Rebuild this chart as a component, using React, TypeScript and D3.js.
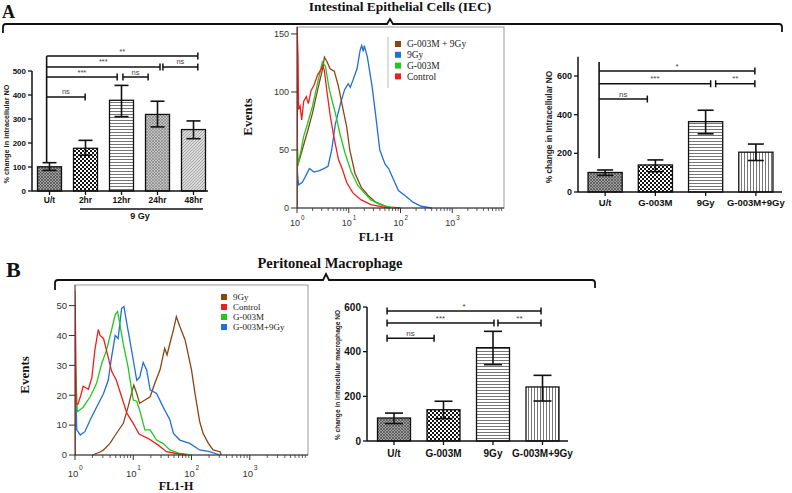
import React from 'react';
import * as d3 from 'd3';

// ---------------- DATA ----------------
// Panel A (left): time course after 9 Gy
const iecTimeCategories = ['U/t', '2hr', '12hr', '24hr', '48hr'];
const iecTimeMean = [101, 178, 378, 319, 256];
const iecTimeLow = [86, 149, 310, 267, 218];
const iecTimeHigh = [118, 211, 440, 374, 292];
const iecTimeSignif = [
  { from: -0.08, to: 4.12, y: 562, label: '**' },
  { from: -0.08, to: 3.07, y: 517, label: '***' },
  { from: 3.15, to: 4.12, y: 517, label: 'ns' },
  { from: -0.08, to: 1.88, y: 475, label: '***' },
  { from: 2.04, to: 2.74, y: 475, label: 'ns' },
  { from: -0.08, to: 0.99, y: 392, label: 'ns' },
];
const iecTimeVertical = { at: -0.08, top: 562, bottom: 118 };

// Panel A (right): treatments, IEC
const treatCategories = ['U/t', 'G-003M', '9Gy', 'G-003M+9Gy'];
const iecTreatMean = [101, 140, 364, 206];
const iecTreatLow = [86, 105, 301, 163];
const iecTreatHigh = [114, 166, 423, 248];
const iecTreatSignif = [
  { from: -0.12, to: 2.98, y: 626, label: '*' },
  { from: -0.12, to: 2.1, y: 560, label: '***' },
  { from: 2.2, to: 2.98, y: 560, label: '**' },
  { from: -0.12, to: 0.84, y: 481, label: 'ns' },
];
const iecTreatVertical = { at: -0.12, top: 673, bottom: 175 };

// Panel B (right): treatments, macrophage
const macTreatMean = [103, 140, 418, 242];
const macTreatLow = [78, 100, 342, 179];
const macTreatHigh = [125, 178, 491, 294];
const macTreatSignif = [
  { from: -0.14, to: 2.97, y: 582, label: '*' },
  { from: -0.14, to: 2.02, y: 528, label: '***' },
  { from: 2.1, to: 2.97, y: 528, label: '**' },
  { from: -0.14, to: 0.81, y: 460, label: 'ns' },
];

// Flow histograms: [log10(FL1-H), events]
const iecControl = [[0, 0], [0, 160], [0.02, 130], [0.03, 85], [0.06, 88], [0.09, 76], [0.13, 92], [0.18, 96], [0.22, 90], [0.27, 101], [0.33, 106], [0.4, 115], [0.46, 119], [0.5, 123], [0.53, 118], [0.58, 100], [0.64, 80], [0.71, 62], [0.8, 42], [0.88, 33], [0.96, 22], [1.08, 13], [1.24, 7], [1.43, 3], [1.7, 0.5], [1.8, 0]];
const iecG003M = [[0, 0], [0, 60], [0.02, 38], [0.08, 50], [0.13, 62], [0.2, 72], [0.3, 88], [0.4, 108], [0.49, 126], [0.55, 122], [0.62, 103], [0.68, 92], [0.74, 82], [0.83, 64], [0.93, 47], [1.05, 31], [1.18, 19], [1.3, 13], [1.43, 7], [1.61, 3], [1.8, 0.5], [1.9, 0]];
const iecG003M9Gy = [[0, 0], [0, 160], [0.01, 36], [0.12, 53], [0.21, 67], [0.3, 82], [0.4, 102], [0.49, 119], [0.53, 130], [0.58, 126], [0.64, 120], [0.72, 118], [0.8, 105], [0.89, 85], [0.96, 70], [1.02, 50], [1.12, 30], [1.24, 18], [1.37, 11], [1.52, 5], [1.74, 1], [2.0, 0]];
const iec9Gy = [[0, 0], [0, 35], [0.03, 20], [0.1, 22], [0.15, 26], [0.24, 34], [0.33, 31], [0.42, 32], [0.52, 34], [0.6, 36], [0.67, 50], [0.74, 72], [0.84, 90], [0.92, 102], [0.99, 107], [1.03, 104], [1.08, 110], [1.16, 120], [1.22, 136], [1.25, 140], [1.28, 135], [1.3, 140], [1.36, 130], [1.45, 105], [1.52, 80], [1.6, 50], [1.7, 38], [1.77, 34], [1.86, 25], [1.96, 15], [2.11, 10], [2.24, 5], [2.4, 1.5], [2.6, 0]];

const macControl = [[0, 0], [0, 55], [0.01, 40], [0.02, 17], [0.05, 17], [0.1, 20], [0.14, 23], [0.23, 22], [0.29, 26], [0.34, 35], [0.4, 42], [0.43, 40], [0.49, 39], [0.54, 35], [0.63, 28], [0.71, 25], [0.8, 19.5], [0.89, 14], [1.0, 10.6], [1.1, 7], [1.26, 5.5], [1.43, 3.3], [1.57, 1.1], [1.74, 0.5], [1.91, 0]];
const macG003M = [[0, 0], [0, 50], [0.01, 30], [0.04, 14.5], [0.14, 16], [0.26, 19.5], [0.37, 24], [0.46, 30.7], [0.54, 35], [0.63, 42], [0.69, 47], [0.73, 48], [0.76, 45], [0.83, 37], [0.91, 29.6], [1.0, 18.4], [1.06, 18], [1.11, 15], [1.2, 8.4], [1.29, 8.4], [1.4, 5], [1.51, 3.9], [1.63, 1.7], [1.8, 0.5], [2.0, 0]];
const macG003M9Gy = [[0, 0], [0, 33], [0.03, 8.4], [0.09, 6.7], [0.17, 7.8], [0.26, 11.7], [0.37, 16], [0.49, 20.6], [0.57, 25], [0.63, 33], [0.69, 40], [0.74, 39], [0.8, 49], [0.84, 49.7], [0.89, 44], [0.94, 38.5], [1.0, 31.8], [1.06, 25], [1.11, 26], [1.17, 31], [1.23, 28.5], [1.29, 21.8], [1.4, 20.6], [1.51, 16.2], [1.63, 11.7], [1.69, 7.2], [1.8, 5], [1.97, 3.9], [2.14, 1.7], [2.31, 1.1], [2.49, 0]];
const mac9Gy = [[0.3, 0], [0.43, 1], [0.49, 1.7], [0.6, 3.9], [0.71, 7.2], [0.83, 10.6], [0.91, 16], [0.97, 20.6], [1.01, 23.4], [1.06, 20.6], [1.11, 17.3], [1.2, 18.4], [1.29, 19.5], [1.37, 24], [1.46, 28.5], [1.51, 33], [1.54, 35.7], [1.58, 33.5], [1.63, 37.4], [1.69, 41.9], [1.74, 46.3], [1.8, 43], [1.89, 38.5], [1.94, 34], [2.0, 28.5], [2.06, 20.6], [2.14, 11.2], [2.2, 7.2], [2.29, 3.9], [2.37, 1.7], [2.49, 1.1], [2.51, 0]];

const iecHistTicks = [0, 50, 100, 150];
const macHistTicks = [0, 10, 20, 30, 40, 50];
const iecTimeTicks = [0, 100, 200, 300, 400, 500];
const treatTicks = [0, 200, 400, 600];

// ---------------- STYLE ----------------
const SANS = 'Liberation Sans, Arial, sans-serif';
const SERIF = 'Liberation Serif, Times New Roman, serif';
const BROWN = '#8b4513';
const BLUE = '#1f6fdc';
const GREEN = '#22c822';
const RED = '#f01e1e';

type Sig = { from: number; to: number; y: number; label: string };

function Patterns() {
  return (
    <defs>
      <pattern id="pUt" width="3" height="3" patternUnits="userSpaceOnUse">
        <rect width="3" height="3" fill="#a0a0a0" />
        <path d="M0,0 L3,3 M3,0 L0,3" stroke="#4a4a4a" strokeWidth="0.7" />
      </pattern>
      <pattern id="pChk" width="4" height="4" patternUnits="userSpaceOnUse">
        <rect width="4" height="4" fill="#fff" />
        <rect width="2" height="2" fill="#151515" />
        <rect x="2" y="2" width="2" height="2" fill="#151515" />
      </pattern>
      <pattern id="pH" width="4" height="3" patternUnits="userSpaceOnUse">
        <rect width="4" height="3" fill="#fff" />
        <line x1="0" x2="4" y1="0.5" y2="0.5" stroke="#777" strokeWidth="1" />
      </pattern>
      <pattern id="pV" width="3" height="4" patternUnits="userSpaceOnUse">
        <rect width="3" height="4" fill="#fff" />
        <line x1="0.5" x2="0.5" y1="0" y2="4" stroke="#777" strokeWidth="1" />
      </pattern>
      <pattern id="p24" width="3" height="3" patternUnits="userSpaceOnUse">
        <rect width="3" height="3" fill="#c4c4c4" />
        <path d="M0,0 L3,3 M3,0 L0,3" stroke="#7a7a7a" strokeWidth="0.6" />
      </pattern>
      <pattern id="p48" width="3" height="3" patternUnits="userSpaceOnUse">
        <rect width="3" height="3" fill="#dadada" />
        <path d="M0,3 L3,0" stroke="#9a9a9a" strokeWidth="0.8" />
      </pattern>
    </defs>
  );
}

type BarProps = {
  cats: string[]; mean: number[]; lo: number[]; hi: number[]; sig: Sig[]; fills: string[];
  band: [number, number]; padIn: number; padOut: number;
  axisX: number; axisXEnd: number; yDomain: [number, number]; yRange: [number, number];
  ticks: number[]; tickFont: number; catFont: number; catY: number;
  yLabel: string; yLabelX: number; yLabelY: number; yLabelFont: number;
  cap: number; vertical?: { at: number; top: number; bottom: number };
  leftTicks: boolean; sigFont: number;
};

function BarChart(p: BarProps) {
  const x = d3.scaleBand<string>().domain(p.cats).range(p.band).paddingInner(p.padIn).paddingOuter(p.padOut);
  const y = d3.scaleLinear().domain(p.yDomain).range(p.yRange);
  const bw = x.bandwidth();
  const cx = (i: number) => (x(p.cats[0]) as number) + bw / 2 + i * x.step();
  const y0 = y(0);
  return (
    <g fontFamily={SANS}>
      {p.cats.map((c, i) => (
        <rect key={c} x={x(c)} y={y(p.mean[i])} width={bw} height={y0 - y(p.mean[i])}
          fill={`url(#${p.fills[i]})`} stroke="#111" strokeWidth={1.3} />
      ))}
      {p.cats.map((c, i) => {
        const xc = cx(i);
        return (
          <g key={c} stroke="#111" strokeWidth={1.6}>
            <line x1={xc} x2={xc} y1={y(p.lo[i])} y2={y(p.hi[i])} />
            <line x1={xc - p.cap} x2={xc + p.cap} y1={y(p.hi[i])} y2={y(p.hi[i])} />
            <line x1={xc - p.cap} x2={xc + p.cap} y1={y(p.lo[i])} y2={y(p.lo[i])} />
          </g>
        );
      })}
      {/* axes */}
      <line x1={p.axisX} x2={p.axisX} y1={y0} y2={p.yRange[1]} stroke="#111" strokeWidth={1.5} />
      <line x1={p.axisX} x2={p.axisXEnd} y1={y0} y2={y0} stroke="#111" strokeWidth={1.5} />
      {p.ticks.map(t => (
        <g key={t}>
          <line x1={p.axisX - 4} x2={p.axisX} y1={y(t)} y2={y(t)} stroke="#111" strokeWidth={1.3} />
          <text x={p.axisX - 6} y={y(t)} dy="0.35em" textAnchor="end" fontSize={p.tickFont} fontWeight="bold" fill="#111">{t}</text>
        </g>
      ))}
      {p.cats.map((c, i) => (
        <g key={c}>
          <line x1={cx(i)} x2={cx(i)} y1={y0} y2={y0 + 4} stroke="#111" strokeWidth={1.3} />
          <text x={cx(i)} y={p.catY} textAnchor="middle" fontSize={p.catFont} fontWeight="bold" fill="#111">{c}</text>
        </g>
      ))}
      <text transform={`translate(${p.yLabelX},${p.yLabelY}) rotate(-90)`} textAnchor="middle" fontSize={p.yLabelFont}
        fontWeight="bold" fill="#222">{p.yLabel}</text>
      {/* significance */}
      {p.vertical && (
        <line x1={cx(p.vertical.at)} x2={cx(p.vertical.at)} y1={y(p.vertical.top)} y2={y(p.vertical.bottom)} stroke="#111" strokeWidth={1.6} />
      )}
      {p.sig.map((s, k) => {
        const a = cx(s.from), b = cx(s.to), yy = y(s.y);
        return (
          <g key={k}>
            <line x1={a} x2={b} y1={yy} y2={yy} stroke="#111" strokeWidth={1.5} />
            <line x1={b} x2={b} y1={yy - 3.5} y2={yy + 3.5} stroke="#111" strokeWidth={1.5} />
            {(p.leftTicks || s.from > 0) && <line x1={a} x2={a} y1={yy - 3.5} y2={yy + 3.5} stroke="#111" strokeWidth={1.5} />}
            <text x={(a + b) / 2} y={yy - 2.5} textAnchor="middle" fontSize={p.sigFont} fill="#444">{s.label}</text>
          </g>
        );
      })}
    </g>
  );
}

type Series = { pts: number[][]; color: string; label: string };
type HistProps = {
  id: string; series: Series[]; legend: Series[];
  left: number; right: number; top: number; bottom: number; yMax: number; ticks: number[];
  tickFont: number; xLabelY: number; supY: number;
  eventsX: number; eventsY: number; flX: number; flY: number; titleFont: number;
  legX: number; legY: number; legStep: number; legFont: number; legLine?: [number, number, number];
};

function Histogram(p: HistProps) {
  const x = d3.scaleLog().domain([1, 1e4]).range([p.left, p.right]);
  const y = d3.scaleLinear().domain([0, p.yMax]).range([p.bottom, p.top]);
  const line = d3.line<number[]>().x(d => x(Math.pow(10, d[0]))).y(d => y(d[1]));
  const majors = [0, 1, 2, 3];
  const minors: number[] = [];
  for (let d = 0; d < 4; d++) for (let k = 2; k < 10; k++) minors.push(k * Math.pow(10, d));
  return (
    <g>
      <clipPath id={p.id}>
        <rect x={p.left} y={p.top} width={p.right - p.left} height={p.bottom - p.top + 1} />
      </clipPath>
      <rect x={p.left} y={p.top} width={p.right - p.left} height={p.bottom - p.top} fill="none" stroke="#999" strokeWidth={1} />
      <g clipPath={`url(#${p.id})`}>
        {p.series.map(s => (
          <path key={s.label} d={line(s.pts) || ''} fill="none" stroke={s.color} strokeWidth={1.3} />
        ))}
      </g>
      <line x1={p.left} x2={p.right} y1={p.bottom} y2={p.bottom} stroke="#333" strokeWidth={1.2} />
      <line x1={p.left} x2={p.left} y1={p.bottom} y2={p.top} stroke="#333" strokeWidth={0.8} />
      {p.ticks.map(t => (
        <g key={t} fontFamily={SANS}>
          <line x1={p.left - 6} x2={p.left} y1={y(t)} y2={y(t)} stroke="#333" strokeWidth={1} />
          <text x={p.left - 8} y={y(t)} dy="0.35em" textAnchor="end" fontSize={p.tickFont} fill="#333">{t}</text>
        </g>
      ))}
      {minors.map(v => (
        <line key={v} x1={x(v)} x2={x(v)} y1={p.bottom} y2={p.bottom + 3} stroke="#333" strokeWidth={0.8} />
      ))}
      {majors.map(d => (
        <g key={d} fontFamily={SANS} fill="#333">
          <line x1={x(Math.pow(10, d))} x2={x(Math.pow(10, d))} y1={p.bottom} y2={p.bottom + 5} stroke="#333" strokeWidth={1} />
          <text x={x(Math.pow(10, d)) - 2} y={p.xLabelY} textAnchor="middle" fontSize={p.tickFont}>10</text>
          <text x={x(Math.pow(10, d)) + 4} y={p.supY} textAnchor="start" fontSize={p.tickFont * 0.7}>{d}</text>
        </g>
      ))}
      <text transform={`translate(${p.eventsX},${p.eventsY}) rotate(-90)`} textAnchor="middle" fontFamily={SERIF}
        fontWeight="bold" fontSize={p.titleFont} fill="#111">Events</text>
      <text x={p.flX} y={p.flY} textAnchor="middle" fontFamily={SERIF} fontWeight="bold" fontSize={p.titleFont - 1} fill="#111">FL1-H</text>
      {p.legLine && <line x1={p.legLine[0]} x2={p.legLine[0]} y1={p.legLine[1]} y2={p.legLine[2]} stroke="#bbb" strokeWidth={1} />}
      {p.legend.map((s, i) => (
        <g key={s.label}>
          <rect x={p.legX} y={p.legY + i * p.legStep - 3} width={6} height={6} fill={s.color} />
          <text x={p.legX + 12} y={p.legY + i * p.legStep} dy="0.35em" fontFamily={SERIF} fontSize={p.legFont} fill="#222">{s.label}</text>
        </g>
      ))}
    </g>
  );
}

export default function App() {
  const iecSeries: Series[] = [
    { pts: iec9Gy, color: BLUE, label: '9Gy' },
    { pts: iecG003M9Gy, color: BROWN, label: 'G-003M + 9Gy' },
    { pts: iecG003M, color: GREEN, label: 'G-003M' },
    { pts: iecControl, color: RED, label: 'Control' },
  ];
  const iecLegend = [iecSeries[1], iecSeries[0], iecSeries[2], iecSeries[3]];
  const macSeries: Series[] = [
    { pts: mac9Gy, color: BROWN, label: '9Gy' },
    { pts: macG003M9Gy, color: BLUE, label: 'G-003M+9Gy' },
    { pts: macG003M, color: GREEN, label: 'G-003M' },
    { pts: macControl, color: RED, label: 'Control' },
  ];
  const macLegend = [macSeries[0], macSeries[3], macSeries[2], macSeries[1]];

  return (
    <svg width={792} height={493} style={{ position: 'absolute', left: 0, top: 0, background: '#fff' }}>
      <Patterns />
      {/* Panel A header */}
      <text x={2} y={18} fontFamily={SERIF} fontWeight="bold" fontSize={18} fill="#111">A</text>
      <text x={400} y={11} textAnchor="middle" fontFamily={SERIF} fontWeight="bold" fontSize={13.5} fill="#111">Intestinal Epithelial Cells (IEC)</text>
      <path d="M3,33 L3,27 Q3,24 6,24 L387,24 L390,19 L393,24 L779,24 Q782,24 782,27 L782,32" fill="none" stroke="#111" strokeWidth={1.8} />

      <BarChart cats={iecTimeCategories} mean={iecTimeMean} lo={iecTimeLow} hi={iecTimeHigh} sig={iecTimeSignif}
        fills={['pUt', 'pChk', 'pH', 'p24', 'p48']} band={[31.5, 211.5]} padIn={1 / 3} padOut={1 / 6}
        axisX={32} axisXEnd={208} yDomain={[0, 500]} yRange={[191, 71]} ticks={iecTimeTicks}
        tickFont={8} catFont={8.5} catY={203} yLabel="% change in intracellular NO" yLabelX={9} yLabelY={134}
        yLabelFont={7.3} cap={7} vertical={iecTimeVertical} leftTicks={false} sigFont={7.5} />
      <line x1={80} x2={203} y1={209} y2={209} stroke="#111" strokeWidth={1.6} />
      <text x={140} y={219} textAnchor="middle" fontFamily={SANS} fontWeight="bold" fontSize={9} fill="#111">9 Gy</text>

      <Histogram id="clipA" series={iecSeries} legend={iecLegend} left={297} right={504} top={27} bottom={208}
        yMax={156} ticks={iecHistTicks} tickFont={9} xLabelY={226} supY={220}
        eventsX={252} eventsY={117} flX={376} flY={241} titleFont={13}
        legX={395} legY={44} legStep={10.8} legFont={9.5} legLine={[388, 37, 88]} />

      <BarChart cats={treatCategories} mean={iecTreatMean} lo={iecTreatLow} hi={iecTreatHigh} sig={iecTreatSignif}
        fills={['pUt', 'pChk', 'pH', 'pV']} band={[580, 781]} padIn={0.32} padOut={0.16}
        axisX={578} axisXEnd={782} yDomain={[0, 700]} yRange={[192, 56.7]} ticks={treatTicks}
        tickFont={9} catFont={9.5} catY={206} yLabel="% change in Intracellular NO" yLabelX={552} yLabelY={127}
        yLabelFont={8.3} cap={8} vertical={iecTreatVertical} leftTicks={false} sigFont={8} />

      {/* Panel B header */}
      <text x={6} y={277} fontFamily={SERIF} fontWeight="bold" fontSize={22} fill="#111">B</text>
      <text x={330} y={268} textAnchor="middle" fontFamily={SERIF} fontWeight="bold" fontSize={14.5} fill="#111">Peritoneal Macrophage</text>
      <path d="M55,290 L55,283 Q55,280 58,280 L323,280 L326,274 L329,280 L592,280 Q595,280 595,283 L595,288" fill="none" stroke="#111" strokeWidth={1.8} />

      <Histogram id="clipB" series={macSeries} legend={macLegend} left={75} right={308} top={285} bottom={455}
        yMax={56.9} ticks={macHistTicks} tickFont={9.5} xLabelY={477} supY={470}
        eventsX={29} eventsY={375} flX={176} flY={490} titleFont={13}
        legX={221} legY={297} legStep={10} legFont={9} />

      <BarChart cats={treatCategories} mean={macTreatMean} lo={macTreatLow} hi={macTreatHigh} sig={macTreatSignif}
        fills={['pUt', 'pChk', 'pH', 'pV']} band={[369.25, 567.25]} padIn={1 / 3} padOut={1 / 6}
        axisX={367} axisXEnd={568} yDomain={[0, 600]} yRange={[441, 307]} ticks={treatTicks}
        tickFont={10} catFont={10} catY={457} yLabel="% change in intracellular macrophage NO" yLabelX={340} yLabelY={375}
        yLabelFont={6.6} cap={9} leftTicks={true} sigFont={8} />
    </svg>
  );
}
